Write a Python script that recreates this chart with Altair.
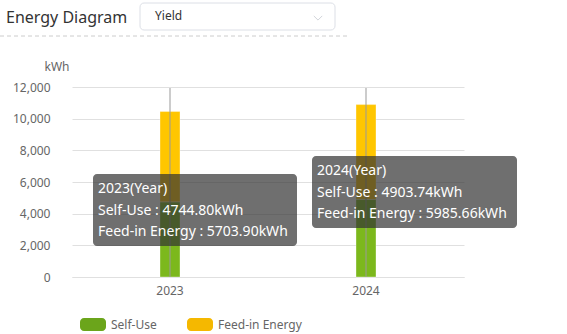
import altair as alt
import pandas as pd

years = ["2023", "2024"]
self_use = [4744.80, 4903.74]
feed_in = [5703.90, 5985.66]
series = ["Self-Use", "Feed-in Energy"]
bar_colors = ["#7CB81C", "#FFC600"]
legend_colors = ["#6BA51B", "#F5B800"]
y_ticks = [0, 2000, 4000, 6000, 8000, 10000, 12000]

FONT = "Noto Sans"

rows = []
for i, yr in enumerate(years):
    rows.append({"year": yr, "series": series[0], "value": self_use[i], "ord": 0})
    rows.append({"year": yr, "series": series[1], "value": feed_in[i], "ord": 1})
df = pd.DataFrame(rows)

xscale = alt.Scale(domain=years, range=[15, 407], paddingInner=0, paddingOuter=0)
yscale = alt.Scale(domain=[0, 12000], nice=False)

base = alt.Chart(df)

bars = base.mark_bar(size=20, stroke="white", strokeOpacity=0.35, strokeWidth=1).encode(
    x=alt.X("year:N", scale=xscale, sort=years,
            axis=alt.Axis(title=None, domain=True, domainColor="#e0e0e0", ticks=False, labelAngle=0,
                          labelColor="#666", labelFontSize=12, labelFont=FONT, labelPadding=8)),
    y=alt.Y("value:Q", stack="zero", scale=yscale,
            axis=alt.Axis(title=None, values=y_ticks, format=",d", domain=False, ticks=False,
                          labelColor="#666", labelFontSize=12, labelFont=FONT, labelPadding=7,
                          gridColor="#e0e0e0")),
    color=alt.Color("series:N", scale=alt.Scale(domain=series, range=bar_colors), legend=None),
    order=alt.Order("ord:Q", sort="ascending"),
)

rules_df = pd.DataFrame({"year": years})
rules = alt.Chart(rules_df).mark_rule(color="#999", strokeWidth=1).encode(
    x=alt.X("year:N", scale=xscale, sort=years),
    y=alt.value(1), y2=alt.value(190),
)

def one(text):
    return alt.Chart(pd.DataFrame({"t": [text]}))

layers = [bars, rules]

# header
layers.append(one("Energy Diagram").mark_text(align="left", baseline="middle", fontSize=16,
                                                  color="#333", font=FONT).encode(
    text="t:N", x=alt.value(-51), y=alt.value(-69)))
layers.append(one("box").mark_rect(fill="white", stroke="#dcdfe6", strokeWidth=1, cornerRadius=4).encode(
    x=alt.value(83), x2=alt.value(278), y=alt.value(-84), y2=alt.value(-57)))
layers.append(one("Yield").mark_text(align="left", baseline="middle", fontSize=12,
                                     color="#333", font=FONT).encode(
    text="t:N", x=alt.value(98), y=alt.value(-71)))
layers.append(one("v").mark_point(shape="M-1,-0.5L0,0.5L1,-0.5", filled=False, color="#c0c4cc",
                                  size=70, strokeWidth=1).encode(
    x=alt.value(261), y=alt.value(-69)))
layers.append(one("d").mark_rule(color="#ccc", strokeDash=[4, 3], strokeWidth=1).encode(
    x=alt.value(-57), x2=alt.value(293), y=alt.value(-51)))
layers.append(one("kWh").mark_text(align="center", baseline="middle", fontSize=12,
                                   color="#666", font=FONT).encode(
    text="t:N", x=alt.value(0), y=alt.value(-20)))

# tooltips
boxes = [(36, 240, 87, 159), (255, 460, 69, 141)]
for i, yr in enumerate(years):
    x1, x2, y1, y2 = boxes[i]
    layers.append(one("tip").mark_rect(fill="rgb(50,50,50)", fillOpacity=0.7, cornerRadius=4).encode(
        x=alt.value(x1), x2=alt.value(x2), y=alt.value(y1), y2=alt.value(y2)))
    lines = [f"{yr}(Year)",
             f"{series[0]} : {self_use[i]:.2f}kWh",
             f"{series[1]} : {feed_in[i]:.2f}kWh"]
    for j, line in enumerate(lines):
        layers.append(one(line).mark_text(align="left", baseline="middle", fontSize=14, color="white",
                                          font=FONT).encode(
            text="t:N", x=alt.value(x1 + 5), y=alt.value(y1 + 15 + 21.5 * j)))

# legend
leg_x = [23, 130]
for i, s in enumerate(series):
    layers.append(one(s).mark_rect(fill=legend_colors[i], cornerRadius=4).encode(
        x=alt.value(leg_x[i]), x2=alt.value(leg_x[i] + 26), y=alt.value(231), y2=alt.value(244)))
    layers.append(one(s).mark_text(align="left", baseline="middle", fontSize=12, color="#666",
                                   font=FONT).encode(
        text="t:N", x=alt.value(leg_x[i] + 31), y=alt.value(238)))

chart = alt.layer(*layers).properties(
    width=493, height=190,
    autosize=alt.AutoSizeParams(type="none"),
    padding={"left": 57, "top": 87, "right": 17, "bottom": 57},
    background="white",
).configure_view(stroke=None)

chart.save("out.html", embed_options={"renderer": "svg", "actions": False})
